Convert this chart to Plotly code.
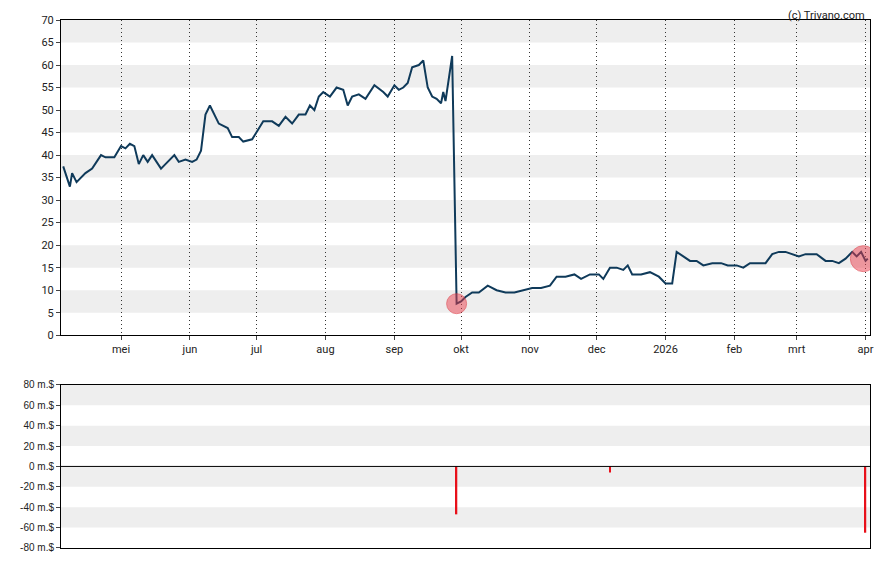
import plotly.graph_objects as go
from plotly.subplots import make_subplots

dates = [
    "2025-04-05", "2025-04-08", "2025-04-09", "2025-04-11", "2025-04-15", "2025-04-18", "2025-04-22",
    "2025-04-24", "2025-04-28", "2025-05-01", "2025-05-03", "2025-05-05", "2025-05-07", "2025-05-09",
    "2025-05-11", "2025-05-13", "2025-05-15", "2025-05-19", "2025-05-21", "2025-05-25", "2025-05-27",
    "2025-05-30", "2025-06-02", "2025-06-04", "2025-06-06", "2025-06-08", "2025-06-10", "2025-06-14",
    "2025-06-18", "2025-06-20", "2025-06-23", "2025-06-25", "2025-06-29", "2025-07-01", "2025-07-04",
    "2025-07-08", "2025-07-11", "2025-07-14", "2025-07-17", "2025-07-20", "2025-07-23", "2025-07-25",
    "2025-07-27", "2025-07-29", "2025-07-31", "2025-08-03", "2025-08-06", "2025-08-09", "2025-08-11",
    "2025-08-13", "2025-08-16", "2025-08-19", "2025-08-23", "2025-08-27", "2025-08-29", "2025-09-01",
    "2025-09-03", "2025-09-05", "2025-09-07", "2025-09-09", "2025-09-12", "2025-09-14", "2025-09-16",
    "2025-09-18", "2025-09-20", "2025-09-22", "2025-09-23", "2025-09-24", "2025-09-25", "2025-09-27",
    "2025-09-29", "2025-10-01", "2025-10-03", "2025-10-06", "2025-10-09", "2025-10-13", "2025-10-17",
    "2025-10-21", "2025-10-25", "2025-10-29", "2025-11-02", "2025-11-06", "2025-11-10", "2025-11-13",
    "2025-11-17", "2025-11-21", "2025-11-24", "2025-11-28", "2025-12-02", "2025-12-04", "2025-12-07",
    "2025-12-10", "2025-12-13", "2025-12-15", "2025-12-17", "2025-12-21", "2025-12-25", "2025-12-29",
    "2026-01-01", "2026-01-04", "2026-01-06", "2026-01-09", "2026-01-12", "2026-01-15", "2026-01-18",
    "2026-01-22", "2026-01-26", "2026-01-29", "2026-02-02", "2026-02-05", "2026-02-08", "2026-02-12",
    "2026-02-15", "2026-02-18", "2026-02-21", "2026-02-24", "2026-02-27", "2026-03-02", "2026-03-05",
    "2026-03-10", "2026-03-14", "2026-03-17", "2026-03-20", "2026-03-23", "2026-03-26", "2026-03-28",
    "2026-03-30", "2026-04-01", "2026-04-02",
]
prices = [
    37.5, 33, 36, 34, 36, 37, 40,
    39.5, 39.5, 42, 41.5, 42.5, 42, 38,
    40, 38.5, 40, 37, 38, 40, 38.5,
    39, 38.5, 39, 41, 49, 51, 47,
    46, 44, 44, 43, 43.5, 45, 47.5,
    47.5, 46.5, 48.5, 47, 49, 49, 51,
    50, 53, 54, 53, 55, 54.5, 51,
    53, 53.5, 52.5, 55.5, 54, 53, 55.5,
    54.5, 55, 56, 59.5, 60, 61, 55,
    53, 52.5, 51.5, 54, 52, 55, 62,
    7, 7.5, 8.5, 9.5, 9.5, 11, 10,
    9.5, 9.5, 10, 10.5, 10.5, 11, 13,
    13, 13.5, 12.5, 13.5, 13.5, 12.5, 15,
    15, 14.5, 15.5, 13.5, 13.5, 14, 13,
    11.5, 11.5, 18.5, 17.5, 16.5, 16.5, 15.5,
    16, 16, 15.5, 15.5, 15, 16, 16,
    16, 18, 18.5, 18.5, 18, 17.5, 18,
    18, 16.5, 16.5, 16, 17, 18.5, 17.5,
    18.5, 16.5, 17,
]
marker_dates = ["2025-09-29", "2026-03-31"]
marker_prices = [7, 17]
marker_sizes = [20, 26]

flow_dates = ["2025-09-29", "2025-12-07", "2026-04-01"]
flow_values = [-47, -6, -65]

month_ticks = ["2025-05-01", "2025-06-01", "2025-07-01", "2025-08-01", "2025-09-01", "2025-10-01",
               "2025-11-01", "2025-12-01", "2026-01-01", "2026-02-01", "2026-03-01", "2026-04-01"]
month_labels = ["mei", "jun", "jul", "aug", "sep", "okt", "nov", "dec", "2026", "feb", "mrt", "apr"]

x_range = ["2025-04-04", "2026-04-03"]

fig = make_subplots(rows=2, cols=1)

fig.add_trace(go.Scatter(x=dates, y=prices, mode="lines",
                         line=dict(color="#0f3a5a", width=2), hoverinfo="skip"), row=1, col=1)
fig.add_trace(go.Scatter(x=marker_dates, y=marker_prices, mode="markers",
                         marker=dict(size=marker_sizes, color="rgba(235,60,75,0.7)",
                                     line=dict(color="rgba(220,50,60,0.8)", width=1))), row=1, col=1)
fig.add_trace(go.Bar(x=flow_dates, y=flow_values, marker_color="#e8101a", width=86400000 * 0.6,
                     marker_line_width=0), row=2, col=1)

# horizontal grey bands
shapes = []
for lo in range(5, 70, 10):
    shapes.append(dict(type="rect", xref="x domain", yref="y", x0=0, x1=1, y0=lo, y1=lo + 5,
                       fillcolor="#eeeeee", line_width=0, layer="below"))
for lo in (60, 20, -20, -60):
    shapes.append(dict(type="rect", xref="x2 domain", yref="y2", x0=0, x1=1, y0=lo, y1=lo + 20,
                       fillcolor="#eeeeee", line_width=0, layer="below"))
shapes.append(dict(type="line", xref="x2 domain", yref="y2", x0=0, x1=1, y0=0, y1=0,
                   line=dict(color="black", width=1)))
fig.update_layout(shapes=shapes)

axis_font = dict(family="Roboto, Arial, sans-serif", size=11, color="#222")
fig.update_xaxes(range=x_range, tickvals=month_ticks, ticktext=month_labels, showgrid=True,
                 gridcolor="#333", griddash="1px,3px", gridwidth=1, showline=True, linecolor="black",
                 mirror=True, ticks="outside", ticklen=4, tickfont=axis_font, automargin=False,
                 row=1, col=1)
fig.update_xaxes(range=x_range, showticklabels=False, showgrid=False, showline=True,
                 linecolor="black", mirror=True, automargin=False, row=2, col=1)
fig.update_yaxes(range=[0, 70], dtick=5, showgrid=False, showline=True, linecolor="black",
                 mirror=True, ticks="outside", ticklen=4, tickfont=axis_font, zeroline=False,
                 automargin=False, domain=[0.403, 1], row=1, col=1)
fig.update_yaxes(range=[-80, 80], tickvals=list(range(-80, 81, 20)),
                 ticktext=[f"{v} m.$" for v in range(-80, 81, 20)], showgrid=False, showline=True,
                 linecolor="black", mirror=True, ticks="outside", ticklen=4, zeroline=False,
                 automargin=False, domain=[0, 0.309],
                 tickfont=dict(family="Arial, sans-serif", size=10, color="#222"), row=2, col=1)

# page has the browser's default 8px body margin, so the figure is a bit smaller
fig.update_layout(width=872, height=549, margin=dict(l=53, r=10, t=12, b=9),
                  paper_bgcolor="white", plot_bgcolor="white", showlegend=False,
                  annotations=[dict(text="(c) Trivano.com", xref="paper", yref="paper", x=0.995, y=1,
                                    yshift=12, xanchor="right", yanchor="top", showarrow=False,
                                    borderpad=0,
                                    font=dict(family="Roboto, Arial, sans-serif", size=11,
                                              color="#222"))])
fig.write_html("out.html")
